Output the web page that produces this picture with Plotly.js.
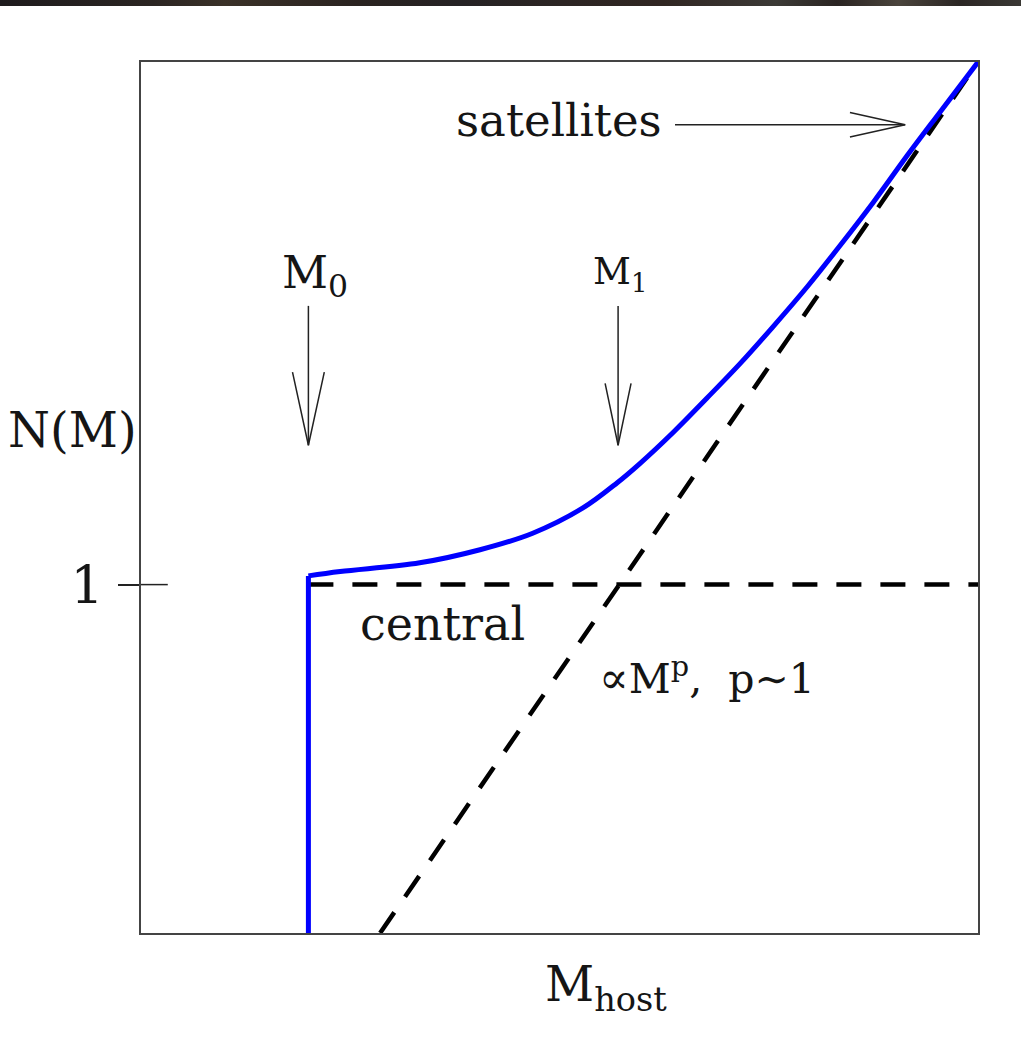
<!DOCTYPE html>
<html>
<head>
<meta charset="utf-8">
<script src="https://cdn.plot.ly/plotly-3.0.1.min.js"></script>
<style>
  html, body { margin: 0; padding: 0; background: #fff; }
  #wrap { position: relative; width: 1021px; height: 1038px; }
  #band {
    position: absolute; left: 0; top: 0; width: 1021px; height: 6px; z-index: 5;
    background: linear-gradient(90deg, #1e1b1d 0%, #2b2522 15%, #3a3128 22%, #2a2320 35%,
      #252224 45%, #2c2523 55%, #302622 65%, #3c3a36 76%, #2a2422 82%, #4a443c 88%, #2b2624 94%, #3a3834 100%);
  }
  #chart { position: absolute; left: 0; top: 0; width: 1021px; height: 1038px; }
</style>
</head>
<body>
<div id="wrap">
  <div id="band"></div>
  <div id="chart"></div>
</div>
<script>
// Halo occupation: total number of galaxies per host halo (schematic)
// threshold step at M0
const stepMass = [2.0, 2.0];
const stepN    = [0.0, 4.1];
// smooth rise above the threshold
const massHost = [2.0, 2.38, 3.33, 4.05, 4.68, 5.28, 5.69, 5.96, 6.36, 6.76, 7.16, 7.55, 7.96, 8.35, 8.75, 9.15, 9.55, 10.0];
const nTotal   = [4.1, 4.15, 4.25, 4.4, 4.59, 4.88, 5.17, 5.39, 5.75, 6.14, 6.54, 6.96, 7.42, 7.89, 8.39, 8.92, 9.43, 10.0];

// Central galaxy term: one galaxy above the threshold mass
const centralMass = [2.0, 10.0];
const centralN    = [4.0, 4.0];

// Satellite term: power law, N ∝ M^p
const satMass = [2.857, 10.0];
const satN    = [0.0, 10.0];

// Characteristic masses
const M0 = 2.0;
const M1 = 5.71;

// Axis tick
const yTickVals = [4.0];
const yTickText = ['1'];

const serif = '"DejaVu Serif", "Liberation Serif", serif';
const ink = '#151515';
const dashed = { color: '#000', width: 4.5, dash: '25px,19px' };
const blue = '#0000ff';

const traces = [
  { x: centralMass, y: centralN, type: 'scatter', mode: 'lines', line: dashed, hoverinfo: 'skip' },
  { x: satMass, y: satN, type: 'scatter', mode: 'lines', line: dashed, hoverinfo: 'skip' },
  { x: stepMass, y: stepN, type: 'scatter', mode: 'lines',
    line: { color: blue, width: 5 }, hoverinfo: 'skip' },
  { x: massHost, y: nTotal, type: 'scatter', mode: 'lines',
    line: { color: blue, width: 5, shape: 'spline', smoothing: 1 }, hoverinfo: 'skip' }
];

// Thin arrow: shaft plus open V head, in data coordinates
function downArrow(x, yTop, yTip, headHalf, headTop) {
  return [
    { type: 'line', xref: 'x', yref: 'y', x0: x, x1: x, y0: yTop, y1: yTip,
      line: { color: '#222', width: 1.5 } },
    { type: 'path', xref: 'x', yref: 'y',
      path: `M ${x - headHalf},${headTop} L ${x},${yTip} L ${x + headHalf},${headTop}`,
      line: { color: '#222', width: 1.5 } }
  ];
}

const shapes = [
  ...downArrow(M0, 7.20, 5.60, 0.19, 6.44),
  ...downArrow(M1 - 0.01, 7.20, 5.60, 0.155, 6.31),
  { type: 'line', xref: 'x', yref: 'y', x0: 6.38, x1: 9.13, y0: 9.28, y1: 9.28,
    line: { color: '#222', width: 1.5 } },
  { type: 'path', xref: 'x', yref: 'y', path: 'M 8.47,9.42 L 9.13,9.28 L 8.47,9.14',
    line: { color: '#222', width: 1.5 } },
  // inner half of the "1" tick mark
  { type: 'line', xref: 'paper', yref: 'y', x0: 0, x1: 0.032, y0: yTickVals[0], y1: yTickVals[0],
    line: { color: '#222', width: 1.5 } }
];

const annotations = [
  { x: 4.99, y: 9.33, xref: 'x', yref: 'y', text: 'satellites', showarrow: false,
    xanchor: 'center', yanchor: 'middle', font: { family: serif, size: 45, color: ink } },
  { x: 3.60, y: 3.55, xref: 'x', yref: 'y', text: 'central', showarrow: false,
    xanchor: 'center', yanchor: 'middle', font: { family: serif, size: 46, color: ink } },
  { x: 5.45, y: 2.95, xref: 'x', yref: 'y',
    text: '<span style="font-size:44px">∝</span>M<sup>p</sup>,&nbsp;&nbsp;p∼1', showarrow: false,
    xanchor: 'left', yanchor: 'middle', font: { family: serif, size: 41, color: ink } },
  { x: M0 + 0.08, y: 7.56, xref: 'x', yref: 'y', text: 'M<sub>0</sub>', showarrow: false,
    xanchor: 'center', yanchor: 'middle', font: { family: serif, size: 45, color: ink } },
  { x: M1 + 0.01, y: 7.57, xref: 'x', yref: 'y', text: 'M<sub>1</sub>', showarrow: false,
    xanchor: 'center', yanchor: 'middle', font: { family: serif, size: 37, color: ink } },
  { x: -0.082, y: 0.577, xref: 'paper', yref: 'paper', text: 'N(M)', showarrow: false,
    xanchor: 'center', yanchor: 'middle', font: { family: serif, size: 48, color: ink } },
  { x: 0.556, y: -0.063, xref: 'paper', yref: 'paper', text: 'M<sub>host</sub>', showarrow: false,
    xanchor: 'center', yanchor: 'middle', font: { family: serif, size: 48, color: ink } }
];

const layout = {
  width: 1021, height: 1038,
  margin: { l: 141, r: 43, t: 62, b: 105 },
  paper_bgcolor: '#ffffff', plot_bgcolor: '#ffffff',
  showlegend: false,
  xaxis: {
    range: [0, 10], showgrid: false, zeroline: false, showticklabels: false, ticks: '',
    showline: true, mirror: true, linecolor: '#444', linewidth: 2, fixedrange: true
  },
  yaxis: {
    range: [0, 10], showgrid: false, zeroline: false,
    tickmode: 'array', tickvals: yTickVals, ticktext: yTickText,
    ticks: 'outside', ticklen: 21, tickwidth: 1.5, tickcolor: '#222',
    ticklabelstandoff: 4,
    tickfont: { family: serif, size: 52, color: ink },
    showline: true, mirror: true, linecolor: '#444', linewidth: 2, fixedrange: true
  },
  shapes: shapes,
  annotations: annotations
};

Plotly.newPlot('chart', traces, layout, { displayModeBar: false });
</script>
</body>
</html>
